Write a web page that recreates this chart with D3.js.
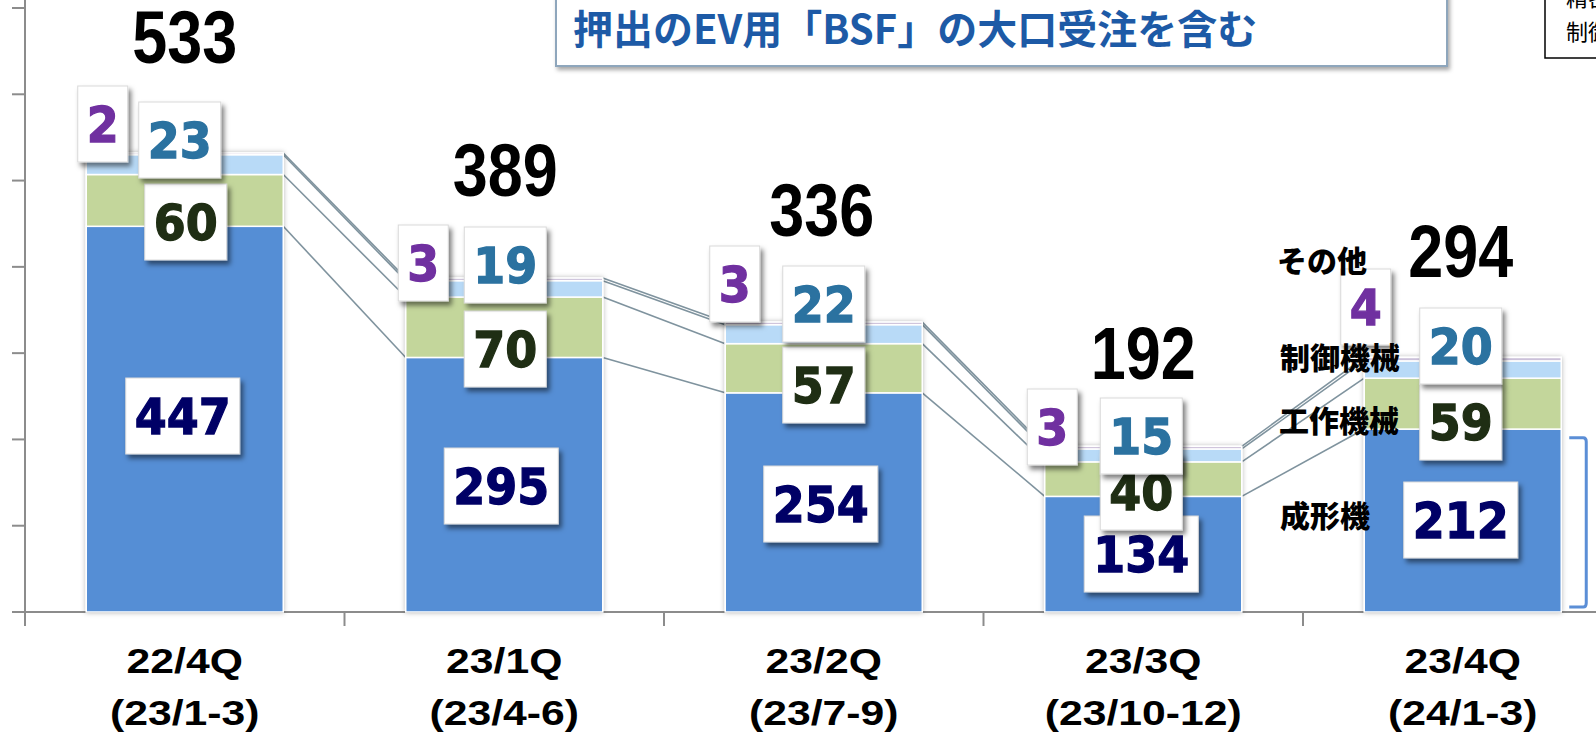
<!DOCTYPE html>
<html><head><meta charset="utf-8">
<script src="https://cdn.jsdelivr.net/npm/d3@7"></script>
<style>
html,body{margin:0;padding:0;background:#fff;overflow:hidden}
svg{display:block}
</style></head>
<body><svg id="chart" width="1596" height="734"></svg>
<script>
// ---------- data ----------
const categories = ["22/4Q", "23/1Q", "23/2Q", "23/3Q", "23/4Q"];
const periods = ["(23/1-3)", "(23/4-6)", "(23/7-9)", "(23/10-12)", "(24/1-3)"];
const seriesNames = ["成形機", "工作機械", "制御機械", "その他"];
const molding = [447, 295, 254, 134, 212];
const machineTools = [60, 70, 57, 40, 59];
const controlMachines = [23, 19, 22, 15, 20];
const others = [2, 3, 3, 3, 4];
const totals = [533, 389, 336, 192, 294];
const yTicks = [0, 100, 200, 300, 400, 500, 600, 700];
const calloutText = "押出のEV用「BSF」の大口受注を含む";
const legendLines = ["精密機械", "制御機械"];

// ---------- layout (pixels) ----------
const W = 1596, H = 734;
const boxLayout = {
  molding: [[-2, 416], [-3, 486], [-3, 504], [-2, 554], [-2, 520]],
  machine: [[1, 222], [1, 349], [0, 385], [-2, 492], [-2, 422]],
  control: [[-5, 140], [1, 265], [0, 304], [-2, 436], [-2, 346]],
  other:   [[-82, 124], [-81, 263], [-89, 284], [-91, 427], [-97, 307]]
};
const totalLayout = [[0, 63], [1, 196], [-2, 236], [0, 379], [-2, 277]];
const seriesLabelPos = [[1325, 527], [1339, 432], [1340, 369], [1322, 272]];

const keys = ["molding", "machine", "control", "other"];
const fills = {molding: "#558ED5", machine: "#C3D69B", control: "#B8DAF7", other: "#CCC1DA"};
const labelColors = {molding: "#000066", machine: "#1F2E14", control: "#2B72A0", other: "#7030A0"};

const svg = d3.select("#chart");
const defs = svg.append("defs");
function shadow(id, dx, dy, sd, op) {
  const f = defs.append("filter").attr("id", id)
    .attr("x", "-30%").attr("y", "-30%").attr("width", "160%").attr("height", "160%");
  f.append("feDropShadow").attr("dx", dx).attr("dy", dy).attr("stdDeviation", sd)
    .attr("flood-color", "#000").attr("flood-opacity", op);
}
shadow("barShadow", 0, 0, 2.5, 0.28);
shadow("boxShadow", 3, 4, 2.5, 0.5);
shadow("calloutShadow", 2, 3, 2, 0.35);

const x = d3.scaleBand().domain(categories).range([25, 25 + 5 * 319.5])
  .paddingInner(0.3834).paddingOuter(0.1917);
const y = d3.scaleLinear().domain([0, 700]).range([612, 8]);
const bw = x.bandwidth();

const rows = categories.map((c, i) => ({
  cat: c, molding: molding[i], machine: machineTools[i],
  control: controlMachines[i], other: others[i]
}));
const stacked = d3.stack().keys(keys)(rows);

// ---------- axes ----------
const axisColor = "#8C8C8C";
const yAxis = svg.append("g");
yAxis.append("line").attr("x1", 25).attr("x2", 25).attr("y1", 0).attr("y2", 626)
  .attr("stroke", axisColor).attr("stroke-width", 2);
yAxis.selectAll("line.t").data(yTicks).join("line").attr("class", "t")
  .attr("x1", 12).attr("x2", 25).attr("y1", d => y(d)).attr("y2", d => y(d))
  .attr("stroke", axisColor).attr("stroke-width", 2);

const xAxis = svg.append("g");
xAxis.append("line").attr("x1", 12).attr("x2", W).attr("y1", y(0)).attr("y2", y(0))
  .attr("stroke", axisColor).attr("stroke-width", 2);
const step = x.step();
const tickXs = d3.range(categories.length + 1).map(i => x.range()[0] + i * step);
xAxis.selectAll("line.t").data(tickXs).join("line").attr("class", "t")
  .attr("x1", d => d).attr("x2", d => d).attr("y1", y(0)).attr("y2", y(0) + 14)
  .attr("stroke", axisColor).attr("stroke-width", 2);

// ---------- series lines ----------
const lineG = svg.append("g");
stacked.forEach(layer => {
  for (let i = 0; i < layer.length - 1; i++) {
    lineG.append("line")
      .attr("x1", x(categories[i]) + bw).attr("y1", y(layer[i][1]))
      .attr("x2", x(categories[i + 1])).attr("y2", y(layer[i + 1][1]))
      .attr("stroke", "#7F939E").attr("stroke-width", 1.6);
  }
});

// ---------- bars ----------
const barG = svg.append("g");
categories.forEach((c, i) => {
  const g = barG.append("g").attr("filter", "url(#barShadow)");
  stacked.forEach(layer => {
    const d = layer[i];
    g.append("rect")
      .attr("x", x(c)).attr("width", bw)
      .attr("y", y(d[1])).attr("height", Math.max(0, y(d[0]) - y(d[1])))
      .attr("fill", fills[layer.key])
      .attr("stroke", "#fff").attr("stroke-width", 1.5);
  });
});

// ---------- bracket ----------
const bx = x(categories[4]) + bw;
svg.append("path")
  .attr("d", `M${bx + 8},${y(202)} H${bx + 22} Q${bx + 25},${y(202)} ${bx + 25},${y(202) + 4} V${y(0) - 9} Q${bx + 25},${y(0) - 5} ${bx + 22},${y(0) - 5} H${bx + 8}`)
  .attr("fill", "none").attr("stroke", "#5B8ED6").attr("stroke-width", 3);

// ---------- value boxes ----------
const valueArrays = {molding: molding, machine: machineTools, control: controlMachines, other: others};
const boxG = svg.append("g");
keys.forEach(k => {
  valueArrays[k].forEach((v, i) => {
    const [dx, cy] = boxLayout[k][i];
    const cx = x(categories[i]) + bw / 2 + dx;
    const s = String(v);
    const w = s.length === 1 ? 50 : (s.length === 2 ? 82 : 114);
    const h = 76;
    const g = boxG.append("g").attr("transform", `translate(${cx},${cy})`);
    g.append("rect").attr("x", -w / 2).attr("y", -h / 2).attr("width", w).attr("height", h)
      .attr("fill", "#fff").attr("stroke", "#D9D9D9").attr("stroke-width", 1)
      .attr("filter", "url(#boxShadow)");
    g.append("text").attr("transform", "scale(1,1.1)")
      .attr("text-anchor", "middle").attr("dy", "0.36em")
      .attr("font-family", "'DejaVu Sans', sans-serif").attr("font-weight", 700)
      .attr("font-size", 46).attr("fill", labelColors[k])
      .attr("stroke", labelColors[k]).attr("stroke-width", 1.2)
      .text(s);
  });
});

// ---------- series name labels (on top) ----------
svg.append("g").selectAll("text").data(seriesNames).join("text")
  .attr("x", (d, i) => seriesLabelPos[i][0]).attr("y", (d, i) => seriesLabelPos[i][1])
  .attr("text-anchor", "middle")
  .attr("font-family", "'Noto Sans CJK JP', sans-serif").attr("font-weight", 900)
  .attr("font-size", 30).attr("fill", "#000")
  .text(d => d);

// ---------- totals ----------
svg.append("g").selectAll("text").data(totals).join("text")
  .attr("transform", (d, i) => `translate(${x(categories[i]) + bw / 2 + totalLayout[i][0]},${totalLayout[i][1]}) scale(0.85,1)`)
  .attr("text-anchor", "middle")
  .attr("font-family", "'Liberation Sans', Arial, sans-serif")
  .attr("font-weight", 700).attr("font-size", 74).attr("fill", "#000")
  .text(d => d);

// ---------- category labels ----------
const catG = svg.append("g");
categories.forEach((c, i) => {
  const cx = x(c) + bw / 2;
  [[c, 673], [periods[i], 725]].forEach(([t, by]) => {
    catG.append("text")
      .attr("transform", `translate(${cx},${by}) scale(1.22,1)`)
      .attr("text-anchor", "middle")
      .attr("font-family", "'Liberation Sans', Arial, sans-serif").attr("font-weight", 700)
      .attr("font-size", 35).attr("fill", "#000").text(t);
  });
});

// ---------- callout ----------
svg.append("rect").attr("x", 556).attr("y", -10).attr("width", 891).attr("height", 76)
  .attr("fill", "#fff").attr("stroke", "#8EA6BC").attr("stroke-width", 2)
  .attr("filter", "url(#calloutShadow)");
svg.append("text").attr("x", 573).attr("y", 44)
  .attr("font-family", "'Noto Sans CJK JP', sans-serif").attr("font-weight", 700)
  .attr("font-size", 40).attr("fill", "#1D5AA6").text(calloutText);

// ---------- legend (clipped at edge) ----------
svg.append("rect").attr("x", 1545).attr("y", -10).attr("width", 120).attr("height", 68)
  .attr("fill", "#fff").attr("stroke", "#000").attr("stroke-width", 1.5);
svg.append("g").selectAll("text").data(legendLines).join("text")
  .attr("x", 1566).attr("y", (d, i) => 6 + i * 34)
  .attr("font-family", "'Noto Sans CJK JP', sans-serif").attr("font-size", 22)
  .attr("fill", "#000").text(d => d);
</script>
</body></html>
